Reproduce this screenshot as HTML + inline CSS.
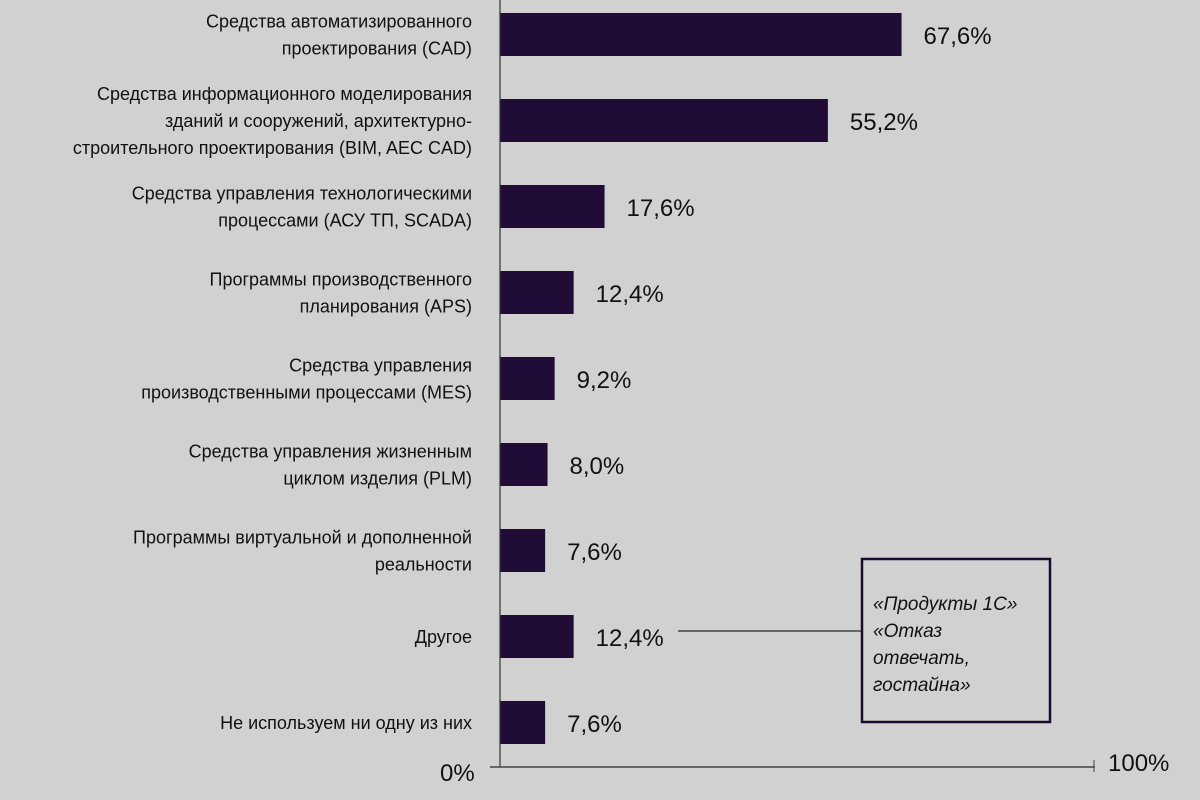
<!DOCTYPE html>
<html><head><meta charset="utf-8"><style>
html,body{margin:0;padding:0;background:#d1d1d1}
svg{display:block}
text{font-family:"Liberation Sans","DejaVu Sans",sans-serif}
</style></head><body>
<svg id="chart" width="1200" height="800" viewBox="0 0 1200 800" xmlns="http://www.w3.org/2000/svg">
<rect width="1200" height="800" fill="#d1d1d1"/>
<g id="bars"></g>
<line x1="500" y1="0" x2="500" y2="767" stroke="#333" stroke-width="1.2"/>
<line x1="490" y1="767" x2="1095" y2="767" stroke="#444" stroke-width="1.5"/>
<line x1="1094" y1="760" x2="1094" y2="772" stroke="#444" stroke-width="1"/>
<text x="440" y="781" font-size="24" fill="#111">0%</text>
<text x="1108" y="771" font-size="24" fill="#111">100%</text>
<line x1="678" y1="631" x2="862" y2="631" stroke="#444" stroke-width="1.5"/>
<rect x="862" y="559" width="188" height="163" fill="none" stroke="#1a0a2e" stroke-width="2.5"/>
<g font-size="19" font-style="italic" fill="#111">
<text x="873" y="610">«Продукты 1С»</text>
<text x="873" y="637">«Отказ</text>
<text x="873" y="664">отвечать,</text>
<text x="873" y="691">гостайна»</text>
</g>
</svg>
<script>
const categories=[
["Средства автоматизированного","проектирования (CAD)"],
["Средства информационного моделирования","зданий и  сооружений, архитектурно-","строительного проектирования (BIM,  AEC CAD)"],
["Средства управления технологическими","процессами (АСУ ТП, SCADA)"],
["Программы производственного","планирования (APS)"],
["Средства управления","производственными процессами (MES)"],
["Средства управления жизненным","циклом изделия (PLM)"],
["Программы виртуальной и дополненной","реальности"],
["Другое"],
["Не используем ни одну из них"]
];
const values=[67.6,55.2,17.6,12.4,9.2,8.0,7.6,12.4,7.6];
const valueLabels=["67,6%","55,2%","17,6%","12,4%","9,2%","8,0%","7,6%","12,4%","7,6%"];
const NS="http://www.w3.org/2000/svg";
const x0=500,x100=1094;
function xScale(v){return x0+(x100-x0)*v/100;}
function yCenter(i){return 35+i*86;}
const g=document.getElementById('bars');
values.forEach((v,i)=>{
 const cy=yCenter(i);
 const r=document.createElementNS(NS,'rect');
 r.setAttribute('x',x0);r.setAttribute('y',cy-22);
 r.setAttribute('width',xScale(v)-x0);r.setAttribute('height',43);
 r.setAttribute('fill','#200c36');
 
 
 g.appendChild(r);
 const t=document.createElementNS(NS,'text');
 t.setAttribute('x',xScale(v)+22);t.setAttribute('y',cy+9);
 t.setAttribute('font-size','24');t.setAttribute('fill','#111');
 t.textContent=valueLabels[i];
 
 
 g.appendChild(t);
 const lines=categories[i];
 const lh=27;
 const start=cy-(lines.length-1)*lh/2+6;
 lines.forEach((ln,j)=>{
  const c=document.createElementNS(NS,'text');
  c.setAttribute('x',472);c.setAttribute('y',start+j*lh);
  c.setAttribute('text-anchor','end');c.setAttribute('font-size','18');c.setAttribute('fill','#111');
  c.setAttribute('xml:space','preserve');
  c.textContent=ln;
  
  
  g.appendChild(c);
 });
});
</script>
</body></html>
